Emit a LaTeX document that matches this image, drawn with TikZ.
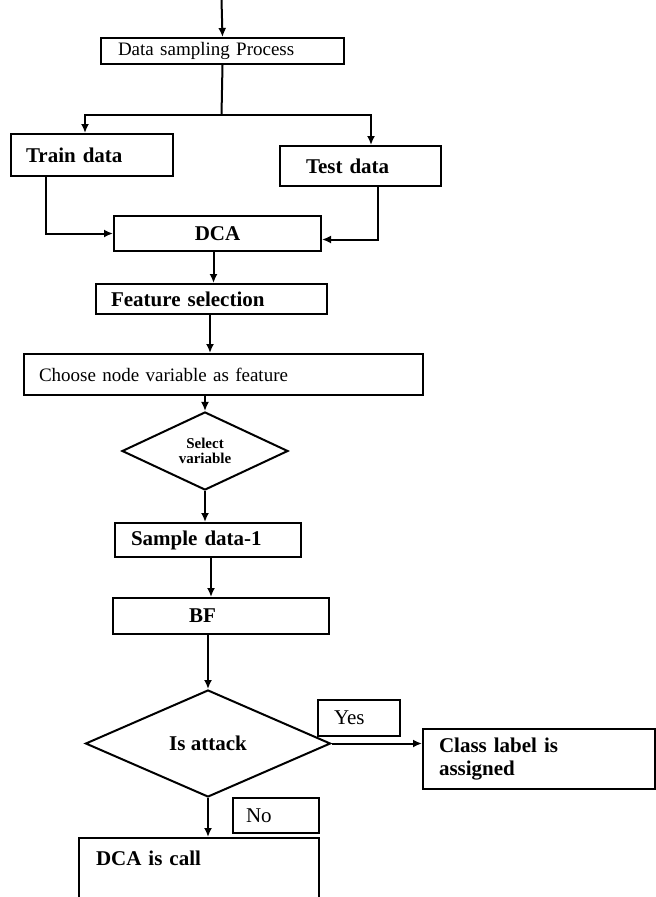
\documentclass[tikz,border=0pt]{standalone}
\usepackage{fontspec}
\setmainfont{Liberation Serif}
\usetikzlibrary{arrows.meta}
\usetikzlibrary{shapes.geometric}
\newcommand{\fbig}{\fontsize{21}{23}\selectfont\bfseries}
\newcommand{\fsmall}{\fontsize{19}{22}\selectfont}
\newcommand{\fplain}{\fontsize{21}{23}\selectfont}
\newcommand{\fsel}{\fontsize{15}{15}\selectfont\bfseries}

\begin{document}
\begin{tikzpicture}[x=1pt,y=-1pt,
    box/.style={draw,line width=2pt,rectangle,inner ysep=0pt,align=left,anchor=north west},
    dec/.style={draw,line width=2pt,diamond,inner sep=0pt,align=center},
    ln/.style={line width=2pt},
    arr/.style={line width=2pt,-{Latex[length=9pt,width=8pt]}}]
    \useasboundingbox (0,0) rectangle (656,897);
    % boxes, top part
    \node[box,inner xsep=17pt,text width=209pt,minimum height=26pt,font=\fsmall] (samp) at (100,37) {Data sampling Process};
    \node[box,inner xsep=15pt,text width=132pt,minimum height=42pt,font=\fbig] (train) at (10,133) {Train data};
    \node[box,inner xsep=26pt,text width=109pt,minimum height=40pt,font=\fbig] (test) at (279,145) {Test data};
    \node[box,inner xsep=0pt,text width=207pt,align=center,minimum height=35pt,font=\fbig] (dca) at (113,215) {DCA};
    \node[box,inner xsep=15pt,text width=201pt,minimum height=30pt,font=\fbig] (feat) at (95,283) {Feature selection};
    \node[box,inner xsep=15pt,text width=369pt,minimum height=41pt,font=\fsmall] (choose) at (23,353) {Choose node variable as feature};
    \node[dec,minimum width=166pt,minimum height=73pt,font=\fsel] (sel) at (205,451) {Select\\variable};
    % lower part
    \node[box,inner xsep=16pt,text width=154pt,minimum height=34pt,font=\fbig] (samp1) at (114,522) {Sample data-1};
    \node[box,inner xsep=76pt,text width=64pt,minimum height=36pt,font=\fbig] (bf) at (112,597) {BF};
    \node[dec,minimum width=245pt,minimum height=107pt,font=\fbig] (att) at (208,743.5) {Is attack};
    \node[box,inner xsep=16pt,text width=50pt,minimum height=36pt,font=\fplain] (yes) at (317,699) {Yes};
    \node[box,inner xsep=16pt,text width=200pt,minimum height=60pt,font=\fbig] (cls) at (422,728) {Class label is\\assigned};
    \node[box,inner xsep=13pt,text width=60pt,minimum height=35pt,font=\fplain] (no) at (232,797) {No};
    \node[box,inner xsep=17pt,inner ysep=7pt,text width=206pt,text height=20pt,text depth=55pt,font=\fbig] (call) at (78,837) {DCA is call};

    % connectors
    \coordinate (top) at (221.5,0);
    \coordinate (split) at (221.5,115);
    \draw[arr] (top) -- (samp.north);
    \draw[ln] (samp.south) -- (split);
    \draw[arr] (split) -| ([xshift=-7pt]train.north);
    \draw[arr] (split) -| ([xshift=10.5pt]test.north);
    \draw[arr] ([xshift=-46pt]train.south) |- (dca.west);
    \draw[arr] ([xshift=17.5pt]test.south) |- ([yshift=-6pt]dca.east);
    \draw[arr] ([xshift=-4pt]dca.south) -- ([xshift=-4pt]dca.south |- feat.north);
    \draw[arr] ([xshift=-1.5pt]feat.south) -- ([xshift=-1.5pt]feat.south |- choose.north);
    \draw[arr] (sel.north |- choose.south) -- (sel.north);
    \draw[arr] (sel.south) -- (sel.south |- samp1.north);
    \draw[arr] ([xshift=3pt]samp1.south) -- ([xshift=3pt]samp1.south |- bf.north);
    \draw[arr] (att.north |- bf.south) -- (att.north);
    \draw[arr] (att.east) -- (att.east -| cls.west);
    \draw[arr] (att.south) -- (att.south |- call.north);
\end{tikzpicture}
\end{document}
